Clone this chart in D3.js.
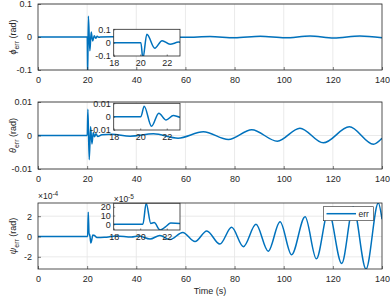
<!DOCTYPE html>
<html>
<head>
<meta charset="utf-8">
<script src="https://cdn.jsdelivr.net/npm/d3@7"></script>
<style>
  body { margin: 0; background: #fff; }
  svg { display: block; font-family: "Liberation Sans", Arial, sans-serif; }
</style>
</head>
<body>
<div id="chart"></div>
<script>
// --- dados (t em s, erro em rad) ---
const xTicks = [0, 20, 40, 60, 80, 100, 120, 140];
const insetTicks = [18, 20, 22];

const phiErr = [
  [0, 0], [20.05, 0], [20.2, -0.12], [20.5, 0.063], [21.1, -0.042], [21.65, 0.015],
  [22.25, -0.012], [22.9, 0.004], [23.5, -0.004], [24.1, 0.002], [24.7, -0.001], [25.3, 0],
  [30, 0.0005], [40, -0.0005], [50, 0.0008], [60, -0.001], [70, 0.0012], [80, -0.002],
  [90.5, 0.0025], [100.5, -0.0025], [110.7, 0.003], [120.4, -0.003], [131, 0.0032], [140, -0.002]
];

const thetaErr = [
  [0, 0], [20.05, 0], [20.3, 0.0078], [20.85, -0.0072], [21.4, 0.0026], [21.95, -0.0025],
  [22.5, 0.0009], [23.0, -0.0004], [23.6, 0.0005], [24.3, -0.0003], [26, 0.0002],
  [30, 0.0004], [37.5, -0.0002], [47, 0.0005], [57, -0.0008], [67.3, 0.0011], [77.5, -0.0012],
  [87, 0.0017], [97.4, -0.0017], [106.6, 0.0022], [116.1, -0.0022], [126.7, 0.0026],
  [136.5, -0.0026], [140, -0.0008]
];

const psiErr = [
  [0, 0], [20.2, 0], [20.45, 24e-5], [20.8, 1e-5], [21.05, 2e-5], [21.5, -6.5e-5], [21.9, -3e-5],
  [22.3, 1.5e-5], [23, 1e-5], [24, -1e-5], [27, -0.8e-5], [32, 0.5e-5], [38, -0.5e-5], [41, 0.5e-5],
  [45.6, -2.5e-5], [49.6, 1e-5], [53.7, -3e-5], [58.9, 4e-5], [63.9, -5e-5], [68.7, 5.5e-5],
  [74, -7.5e-5], [78.8, 9e-5], [83.6, -10e-5], [88.7, 12e-5], [93.7, -14.5e-5], [98.5, 14.5e-5],
  [103.2, -18e-5], [108.7, 19.5e-5], [113.3, -22e-5], [118.2, 25e-5], [123.6, -26.5e-5],
  [128.3, 29e-5], [133.5, -32e-5], [138.5, 33e-5], [140, 17e-5]
];

const W = 390, H = 297;
const blue = "#0072BD", ink = "#262626", gridC = "#e4e4e4";

const svg = d3.select("#chart").append("svg")
  .attr("width", W).attr("height", H)
  .attr("viewBox", [0, 0, W, H]);

const num = d => d === 0 ? "0" : String(d);

const panels = [
  { data: phiErr, sym: "ϕ", top: 4, bottom: 70, ylim: [-0.1, 0.1], yTicks: [-0.1, 0, 0.1], fmt: num,
    inset: { top: 29.3, ylim: [-0.1, 0.1], yTicks: [-0.1, 0, 0.1], fmt: num } },
  { data: thetaErr, sym: "θ", top: 102, bottom: 169, ylim: [-0.01, 0.01], yTicks: [-0.01, 0, 0.01], fmt: num,
    inset: { top: 103.3, ylim: [-0.01, 0.01], yTicks: [-0.01, 0, 0.01], fmt: num } },
  { data: psiErr, sym: "ψ", top: 203, bottom: 269, ylim: [-3.2e-4, 3.3e-4], yTicks: [-2e-4, 0, 2e-4], fmt: d => Math.round(d / 1e-4), exp: "-4",
    inset: { top: 203.3, ylim: [-6.5e-5, 24e-5], yTicks: [0, 10e-5, 20e-5], fmt: d => Math.round(d / 1e-5), exp: "-5" } }
];

const left = 38, right = 382;
const x = d3.scaleLinear([0, 140], [left, right]);

function expLabel(g, px, py, e) {
  const t = g.append("text").attr("x", px).attr("y", py)
    .attr("font-size", 8.5).attr("fill", ink);
  t.append("tspan").text("×10");
  t.append("tspan").attr("dy", -3).attr("font-size", 6.5).text(e);
}

panels.forEach((p, k) => {
  const g = svg.append("g");
  const y = d3.scaleLinear(p.ylim, [p.bottom, p.top]);

  // grade
  g.append("g").selectAll("line").data(xTicks.slice(1, -1)).join("line")
    .attr("x1", d => x(d)).attr("x2", d => x(d))
    .attr("y1", p.top).attr("y2", p.bottom)
    .attr("stroke", gridC).attr("stroke-width", 0.8);
  g.append("g").selectAll("line").data(p.yTicks).join("line")
    .attr("x1", left).attr("x2", right)
    .attr("y1", d => y(d)).attr("y2", d => y(d))
    .attr("stroke", gridC).attr("stroke-width", 0.8);

  g.append("clipPath").attr("id", "clip" + k)
    .append("rect").attr("x", left).attr("y", p.top)
    .attr("width", right - left).attr("height", p.bottom - p.top);

  const line = d3.line().x(d => x(d[0])).y(d => y(d[1])).curve(d3.curveMonotoneX);
  g.append("path").datum(p.data)
    .attr("clip-path", `url(#clip${k})`)
    .attr("d", line).attr("fill", "none")
    .attr("stroke", blue).attr("stroke-width", 1.5);

  // eixos (ticks para dentro, como no MATLAB)
  g.append("g").attr("transform", `translate(0,${p.bottom})`)
    .call(d3.axisBottom(x).tickValues(xTicks).tickFormat(d3.format("d")).tickSize(-3).tickPadding(7))
    .call(a => a.select(".domain").remove());
  g.append("g").attr("transform", `translate(${left},0)`)
    .call(d3.axisLeft(y).tickValues(p.yTicks).tickFormat(p.fmt).tickSize(-3).tickPadding(6))
    .call(a => a.select(".domain").remove());
  g.selectAll(".tick line").attr("stroke", ink).attr("stroke-width", 0.6);
  g.selectAll(".tick text").attr("fill", ink).attr("font-size", 9)
    .attr("font-family", "Liberation Sans, Arial, sans-serif");

  g.append("rect").attr("x", left).attr("y", p.top)
    .attr("width", right - left).attr("height", p.bottom - p.top)
    .attr("fill", "none").attr("stroke", ink).attr("stroke-width", 0.8);

  if (p.exp) expLabel(g, left, p.top - 4, p.exp);

  // rótulo y
  const yl = g.append("text")
    .attr("transform", `translate(16,${(p.top + p.bottom) / 2}) rotate(-90)`)
    .attr("text-anchor", "middle").attr("font-size", 9).attr("fill", ink);
  yl.append("tspan").attr("font-style", "italic").text(p.sym);
  yl.append("tspan").attr("dy", 2.5).attr("font-size", 7).text("err");
  yl.append("tspan").attr("dy", -2.5).text(" (rad)");

  // inset (zoom 18–23 s)
  const q = p.inset;
  const il = 113.7, ir = 180, ib = q.top + 26.7;
  const xi = d3.scaleLinear([18, 23], [il, ir]);
  const yi = d3.scaleLinear(q.ylim, [ib, q.top]);
  const gi = svg.append("g");
  gi.append("rect").attr("x", il).attr("y", q.top)
    .attr("width", ir - il).attr("height", ib - q.top).attr("fill", "#fff");
  gi.append("clipPath").attr("id", "iclip" + k)
    .append("rect").attr("x", il).attr("y", q.top)
    .attr("width", ir - il).attr("height", ib - q.top);
  const iline = d3.line().x(d => xi(d[0])).y(d => yi(d[1])).curve(d3.curveMonotoneX);
  gi.append("path").datum(p.data.filter(d => d[0] <= 26))
    .attr("clip-path", `url(#iclip${k})`)
    .attr("d", iline).attr("fill", "none")
    .attr("stroke", blue).attr("stroke-width", 1.5);
  gi.append("g").attr("transform", `translate(0,${ib})`)
    .call(d3.axisBottom(xi).tickValues(insetTicks).tickFormat(d3.format("d")).tickSize(-1.5).tickPadding(4))
    .call(a => a.select(".domain").remove());
  gi.append("g").attr("transform", `translate(${il},0)`)
    .call(d3.axisLeft(yi).tickValues(q.yTicks).tickFormat(q.fmt).tickSize(-1.5).tickPadding(3))
    .call(a => a.select(".domain").remove());
  gi.selectAll(".tick line").attr("stroke", ink).attr("stroke-width", 0.6);
  gi.selectAll(".tick text").attr("fill", ink).attr("font-size", 9)
    .attr("font-family", "Liberation Sans, Arial, sans-serif");
  gi.append("rect").attr("x", il).attr("y", q.top)
    .attr("width", ir - il).attr("height", ib - q.top)
    .attr("fill", "none").attr("stroke", ink).attr("stroke-width", 0.8);
  if (q.exp) expLabel(gi, il, q.top - 1.5, q.exp);
});

// legenda
const lg = svg.append("g");
lg.append("rect").attr("x", 323.3).attr("y", 206.7).attr("width", 50).attr("height", 14)
  .attr("fill", "#fff").attr("stroke", ink).attr("stroke-width", 0.6);
lg.append("line").attr("x1", 326.5).attr("x2", 356).attr("y1", 213.7).attr("y2", 213.7)
  .attr("stroke", blue).attr("stroke-width", 1.5);
lg.append("text").attr("x", 358.5).attr("y", 216.7).attr("font-size", 8.5).attr("fill", ink).text("err");

svg.append("text").attr("x", (left + right) / 2).attr("y", 294)
  .attr("text-anchor", "middle").attr("font-size", 9).attr("fill", ink).text("Time (s)");
</script>
</body>
</html>
